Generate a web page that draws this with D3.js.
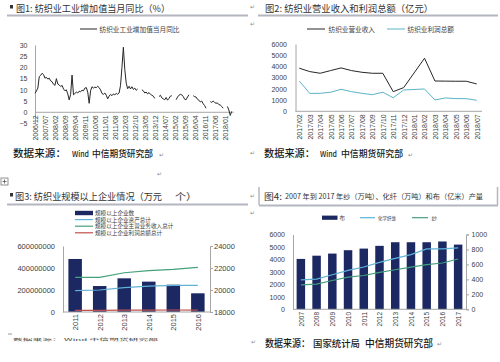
<!DOCTYPE html>
<html>
<head>
<meta charset="utf-8">
<script src="https://cdn.jsdelivr.net/npm/d3@7"></script>
<style>
  body { margin: 0; background: #fff; }
  text { font-family: "Liberation Sans", Arial, sans-serif; fill: #404040; }
  text.cn { font-family: "Noto Sans CJK SC", sans-serif; }
  .axis path, .axis line { stroke: #a6a6a6; }
</style>
</head>
<body>
<svg id="chart" width="500" height="362"></svg>
<script>
// fig 1: textile value added yoy, monthly from 2006/12 to 2018/06 (null = no Jan/Feb print)
const ivaStart = [2006, 12]
const ivaValues = [
  8.5,
  9.5, 10.8, 15.9, 16.5, 17.4, 16.8, 15.2, 15.6, 14.8, 15.2, 14.0, 13.6,
  12.5, 12.0, 15.0, 12.6, 12.2, 11.5, 12.0, 10.4, 9.6, 10.0, 8.2, 5.5,
  8.0, 16.6, 7.8, 8.4, 9.0, 8.6, 9.4, 9.2, 9.8, 9.6, 10.8, 11.0,
  9.0, 4.0, 9.6, 11.4, 10.8, 11.2, 11.0, 11.6, 11.0, 10.0, 8.4, 8.0,
  8.6, 7.6, 6.0, 7.2, 8.0, 7.4, 8.2, 7.8, 8.4, 8.0, 8.6, 12.0,
  20.0, 29.0, 19.0, 13.0, 10.5, 11.6, 10.4, 11.4, 10.2, 10.8, 9.8, 10.4,
  null, null, 10.0, 9.6, 8.6, 9.0, 8.2, 8.8, 8.0, 7.6, 7.2, 6.2,
  null, null, 7.0, 7.6, 6.4, 6.0, 5.6, 6.6, 5.4, 6.2, 7.2, 7.4,
  null, null, 5.6, 6.8, 7.6, 8.0, 7.8, 7.0, 5.8, 5.6, 6.8, 7.8,
  null, null, 7.4, 7.0, 6.8, 5.8, 5.4, 4.6, 5.0, 3.8, 3.0, 1.8,
  null, null, 4.8, 4.4, 5.0, 4.4, 4.0, 4.2, 3.4, 3.2, 2.6, 1.8,
  null, null, 2.6, 1.0, -1.4, 0.4
]
const ivaTicks = [-5, 0, 5, 10, 15, 20, 25, 30]

// fig 2: revenue and profit (100m yuan)
const incMonths = ["2017/02", "2017/03", "2017/04", "2017/05", "2017/06", "2017/07", "2017/08", "2017/09",
  "2017/10", "2017/11", "2017/12", "2018/01", "2018/02", "2018/03", "2018/04", "2018/05", "2018/06", "2018/07"]
const incRevenue = [3840, 3540, 3390, 3630, 3870, 3630, 3480, 3390, 3390, 1750, 2110, null, 4730, 2700, 2690, 2680, 2680, 2440]
const incProfit = [2700, 1600, 1600, 1700, 1960, 1750, 1600, 1480, 1700, 1210, 1900, null, 1990, 1010, 1190, 1130, 1130, 980]
const incTicks = [0, 1000, 2000, 3000, 4000, 5000, 6000]

// fig 3: enterprises above designated size
const entYears = ["2011", "2012", "2013", "2014", "2015", "2016"]
const entFirms = [22820, 20360, 21060, 20760, 20480, 19700]
const entAssets = [194e6, 200e6, 221e6, 236e6, 242e6, 242e6]
const entRevenue = [315e6, 315e6, 357e6, 376e6, 388e6, 406e6]
const entProfit = [15e6, 14e6, 17e6, 17e6, 18e6, 17e6]
const entLeftTicks = [0, 200000000, 400000000, 600000000]
const entRightTicks = [18000, 20000, 22000, 24000]

// fig 4: output of yarn, chemical fibre and cloth
const prodYears = ["2007", "2008", "2009", "2010", "2011", "2012", "2013", "2014", "2015", "2016", "2017"]
const prodCloth = [4040, 4300, 4470, 4740, 4870, 5090, 5380, 5380, 5380, 5440, 5190]
const prodFiber = [394, 403, 462, 520, 565, 628, 681, 731, 807, 807, 821]
const prodYarn = [327, 336, 385, 431, 452, 493, 529, 565, 596, 619, 673]
const prodLeftTicks = [0, 1000, 2000, 3000, 4000, 5000, 6000]
const prodRightTicks = [0, 200, 400, 600, 800, 1000]

const navy = "#1c2862"
const teal = "#5ab4c6"
const lightBlue = "#5fb2d8"
const green = "#45a07c"
const red = "#c0504d"
const plain = d3.format("d")

const svg = d3.select("#chart")

function cn(x, y, s, size, len) {
    const t = svg.append("text").attr("class", "cn").attr("x", x).attr("y", y)
        .attr("font-size", size).text(s)
    if (len) t.attr("textLength", len).attr("lengthAdjust", "spacingAndGlyphs")
    return t
}

function mark(x, y) {
    svg.append("text").attr("x", x).attr("y", y).attr("font-size", 6)
        .style("fill", "#8c8c8c").text("\u21b5")
}

function underline(x0, x1, y) {
    svg.append("line").attr("x1", x0).attr("x2", x1).attr("y1", y).attr("y2", y)
        .attr("stroke", "#b4b6c0").attr("stroke-width", 2)
}

function monthLabel(i) {
    const m = ivaStart[1] - 1 + i
    const mm = (m % 12) + 1
    return (ivaStart[0] + Math.floor(m / 12)) + "/" + (mm < 10 ? "0" + mm : mm)
}

function rotLabels(vals, xf, y, size) {
    svg.append("g").selectAll("text").data(vals).join("text")
        .attr("transform", d => "translate(" + xf(d) + "," + y + ") rotate(-90)")
        .attr("text-anchor", "end").attr("dy", "0.35em").attr("font-size", size)
        .text(d => d)
}

function yAxis(x, axis, size) {
    return svg.append("g").attr("class", "axis").attr("transform", "translate(" + x + ",0)")
        .call(axis)
        .attr("font-size", size)
}

// ---------- figure 1 ----------
svg.append("rect").attr("x", 10).attr("y", 5).attr("width", 3).attr("height", 3.5).attr("fill", "#333")
cn(16, 11.5, "图1: 纺织业工业增加值当月同比（%）", 9.5, 154).style("fill", "#333")
underline(7, 248, 15.5)

svg.append("line").attr("x1", 80).attr("x2", 97).attr("y1", 29).attr("y2", 29).attr("stroke", "#262626")
cn(99.5, 31.5, "纺织业工业增加值当月同比", 6.7, 80)

const x1 = d3.scaleLinear().domain([0, ivaValues.length - 1]).range([35, 231.7])
const y1 = d3.scaleLinear().domain([-5, 30]).range([123.5, 45])

yAxis(35, d3.axisLeft(y1).tickValues(ivaTicks).tickFormat(plain).tickSize(0).tickPadding(7.5), 7)
svg.append("line").attr("x1", x1(0)).attr("x2", x1(ivaValues.length - 1) + 2)
    .attr("y1", y1(0)).attr("y2", y1(0)).attr("stroke", "#a6a6a6")

const ivaLabelIdx = ivaValues.map((d, i) => i).filter(i => i % 7 == 0)
svg.append("g").selectAll("text").data(ivaLabelIdx).join("text")
    .attr("transform", i => "translate(" + (x1(i) + 0.5) + "," + (y1(0) + 3) + ") rotate(-90)")
    .attr("text-anchor", "end").attr("dy", "0.35em").attr("font-size", 7)
    .text(i => monthLabel(i))

svg.append("path").datum(ivaValues)
    .attr("fill", "none").attr("stroke", "#262626").attr("stroke-width", 1)
    .attr("d", d3.line().defined(d => d !== null).x((d, i) => x1(i)).y(d => y1(d)))

cn(13, 157, "数据来源：", 10, 53).style("fill", "#1a1a1a").attr("font-weight", 500)
cn(72, 157, "Wind", 8, 17).style("fill", "#1a1a1a").attr("font-weight", 500)
cn(92, 157, "中信期货研究部", 8.8, 61).style("fill", "#1a1a1a").attr("font-weight", 500)
mark(159, 157)
mark(157, 176)

// ---------- figure 2 ----------
mark(250, 9)
cn(265, 11.5, "图2: 纺织业营业收入和利润总额（亿元）", 9.5, 168).style("fill", "#333")
underline(258, 498, 15.5)
mark(250, 26)

svg.append("line").attr("x1", 307).attr("x2", 325).attr("y1", 29).attr("y2", 29).attr("stroke", "#262626")
cn(328.5, 31.5, "纺织业营业收入", 6.7, 46.5)
svg.append("line").attr("x1", 387).attr("x2", 405).attr("y1", 29).attr("y2", 29).attr("stroke", teal)
cn(407.5, 31.5, "纺织业利润总额", 6.7, 46.5)

const x2 = d3.scalePoint().domain(incMonths).range([299.3, 476.7])
const y2 = d3.scaleLinear().domain([0, 6000]).range([111.3, 44])

yAxis(295.5, d3.axisLeft(y2).tickValues(incTicks).tickFormat(plain).tickSize(0).tickPadding(8.5), 7)
svg.append("line").attr("x1", 295.5).attr("x2", 482).attr("y1", y2(0)).attr("y2", y2(0)).attr("stroke", "#a6a6a6")
rotLabels(incMonths, d => x2(d) + 0.5, y2(0) + 3, 7)

const incLine = d3.line().x(d => x2(d.m)).y(d => y2(d.v))
const revPts = incMonths.map((m, i) => ({ m: m, v: incRevenue[i] })).filter(d => d.v !== null)
const proPts = incMonths.map((m, i) => ({ m: m, v: incProfit[i] })).filter(d => d.v !== null)
svg.append("path").datum(proPts).attr("fill", "none").attr("stroke", teal).attr("stroke-width", 1).attr("d", incLine)
svg.append("path").datum(revPts).attr("fill", "none").attr("stroke", "#262626").attr("stroke-width", 1).attr("d", incLine)

mark(250, 155)
cn(264, 157, "数据来源：", 10, 51).style("fill", "#1a1a1a").attr("font-weight", 500)
cn(320, 157, "Wind", 8, 17).style("fill", "#1a1a1a").attr("font-weight", 500)
cn(341, 157, "中信期货研究部", 8.9, 62).style("fill", "#1a1a1a").attr("font-weight", 500)
mark(408, 157)

// ---------- figure 3 ----------
// table move handle
svg.append("rect").attr("x", 1).attr("y", 178).attr("width", 7).attr("height", 7)
    .attr("fill", "none").attr("stroke", "#777").attr("stroke-width", 0.8)
svg.append("path").attr("d", "M4.5,179.5V183.5M2.5,181.5H6.5").attr("stroke", "#555").attr("stroke-width", 0.8)

svg.append("rect").attr("x", 10).attr("y", 193).attr("width", 3).attr("height", 3.5).attr("fill", "#333")
cn(15, 199.5, "图3: 纺织业规模以上企业情况（万元", 9.5, 147).style("fill", "#333")
cn(175, 199.5, "个）", 9.5, 22).style("fill", "#333")
underline(7, 248, 204.5)

const entLegend = [
    { name: "规模以上企业数", color: navy, bar: true },
    { name: "规模以上企业资产总计", color: lightBlue },
    { name: "规模以上企业主营业务收入总计", color: green },
    { name: "规模以上企业利润总额总计", color: red }
]
entLegend.forEach((d, i) => {
    const ly = 213 + i * 6.6
    if (d.bar) {
        svg.append("rect").attr("x", 75).attr("y", ly - 2.2).attr("width", 18).attr("height", 4.4).attr("fill", d.color)
    } else {
        svg.append("line").attr("x1", 75).attr("x2", 93).attr("y1", ly).attr("y2", ly)
            .attr("stroke", d.color).attr("stroke-width", 1.2)
    }
    cn(95, ly + 2.1, d.name, 5.6)
})

const x3 = d3.scaleBand().domain(entYears).range([63, 210]).paddingInner(0.45).paddingOuter(0.22)
const yl3 = d3.scaleLinear().domain([0, 600000000]).range([312, 246])
const yr3 = d3.scaleLinear().domain([18000, 24000]).range([312, 246])

svg.append("g").selectAll("rect").data(entFirms).join("rect")
    .attr("x", (d, i) => x3(entYears[i]))
    .attr("y", d => yr3(d))
    .attr("width", x3.bandwidth())
    .attr("height", d => yr3(18000) - yr3(d))
    .attr("fill", navy)

yAxis(63, d3.axisLeft(yl3).tickValues(entLeftTicks).tickFormat(plain).tickSize(0).tickPadding(8), 7.5)
yAxis(210, d3.axisRight(yr3).tickValues(entRightTicks).tickFormat(plain).tickSize(3).tickPadding(1), 7.5)
svg.append("line").attr("x1", 63).attr("x2", 210).attr("y1", yl3(0)).attr("y2", yl3(0)).attr("stroke", "#a6a6a6")
rotLabels(entYears, d => x3(d) + x3.bandwidth() / 2 + 0.5, 314, 7.5)

const entLine = d3.line().x((d, i) => x3(entYears[i]) + x3.bandwidth() / 2).y(d => yl3(d))
;[[entAssets, lightBlue], [entRevenue, green], [entProfit, red]].forEach(s => {
    svg.append("path").datum(s[0]).attr("fill", "none").attr("stroke", s[1]).attr("stroke-width", 1.2).attr("d", entLine)
})

// source line of fig 3 is squashed in the original
svg.append("text").attr("class", "cn").attr("x", 13).attr("y", 0)
    .attr("transform", "translate(0,341) scale(1,0.3)")
    .attr("font-size", 10).attr("textLength", 145).attr("lengthAdjust", "spacingAndGlyphs")
    .style("fill", "#444").text("数据来源：   Wind  中信期货研究部")
svg.append("line").attr("x1", 8).attr("x2", 12).attr("y1", 334).attr("y2", 334).attr("stroke", "#999")

// ---------- figure 4 ----------
mark(250, 198)
svg.append("line").attr("x1", 259).attr("x2", 259).attr("y1", 187).attr("y2", 205).attr("stroke", "#b4b6c0").attr("stroke-width", 1.5)
svg.append("line").attr("x1", 497.5).attr("x2", 497.5).attr("y1", 187).attr("y2", 205).attr("stroke", "#b4b6c0").attr("stroke-width", 1.5)
cn(264, 199.5, "图4:", 9, 18).style("fill", "#333")
cn(285, 199, "2007 年到 2017 年纱（万吨）、化纤（万吨）和布（亿米）产量", 7, 198).style("fill", "#333")
underline(259, 498, 205.5)
mark(250, 215)

svg.append("rect").attr("x", 322).attr("y", 215.6).attr("width", 15.5).attr("height", 4.2).attr("fill", navy)
cn(339.5, 220, "布", 5.5)
svg.append("line").attr("x1", 360).attr("x2", 375).attr("y1", 217.7).attr("y2", 217.7).attr("stroke", lightBlue).attr("stroke-width", 1.2)
cn(378, 220, "化学纤维", 5, 18)
svg.append("line").attr("x1", 412).attr("x2", 428).attr("y1", 217.7).attr("y2", 217.7).attr("stroke", green).attr("stroke-width", 1.2)
cn(431.5, 220, "纱", 5.5)

const x4 = d3.scaleBand().domain(prodYears).range([293, 466]).paddingInner(0.46).paddingOuter(0.23)
const yl4 = d3.scaleLinear().domain([0, 6000]).range([309.3, 234.5])
const yr4 = d3.scaleLinear().domain([0, 1000]).range([309.3, 234.5])

svg.append("g").selectAll("rect").data(prodCloth).join("rect")
    .attr("x", (d, i) => x4(prodYears[i]))
    .attr("y", d => yl4(d))
    .attr("width", x4.bandwidth())
    .attr("height", d => yl4(0) - yl4(d))
    .attr("fill", navy)

yAxis(293, d3.axisLeft(yl4).tickValues(prodLeftTicks).tickFormat(plain).tickSize(0).tickPadding(8), 7)
    .select(".domain").attr("stroke", "none")
yAxis(466, d3.axisRight(yr4).tickValues(prodRightTicks).tickFormat(plain).tickSize(3).tickPadding(2.5), 7)
svg.append("line").attr("x1", 293).attr("x2", 466).attr("y1", yl4(0)).attr("y2", yl4(0)).attr("stroke", "#a6a6a6")
rotLabels(prodYears, d => x4(d) + x4.bandwidth() / 2 + 0.5, 312, 6.5)

const prodLine = d3.line().x((d, i) => x4(prodYears[i]) + x4.bandwidth() / 2).y(d => yr4(d))
svg.append("path").datum(prodYarn).attr("fill", "none").attr("stroke", green).attr("stroke-width", 1.2).attr("d", prodLine)
svg.append("path").datum(prodFiber).attr("fill", "none").attr("stroke", lightBlue).attr("stroke-width", 1.2).attr("d", prodLine)

mark(251, 344)
cn(265, 346.5, "数据来源：", 10, 45).style("fill", "#1a1a1a").attr("font-weight", 500)
cn(313, 346.5, "国家统计局", 9.4, 47).style("fill", "#1a1a1a").attr("font-weight", 500)
cn(365, 346.5, "中信期货研究部", 9.7, 68).style("fill", "#1a1a1a").attr("font-weight", 500)
mark(437, 346)
</script>
</body>
</html>
